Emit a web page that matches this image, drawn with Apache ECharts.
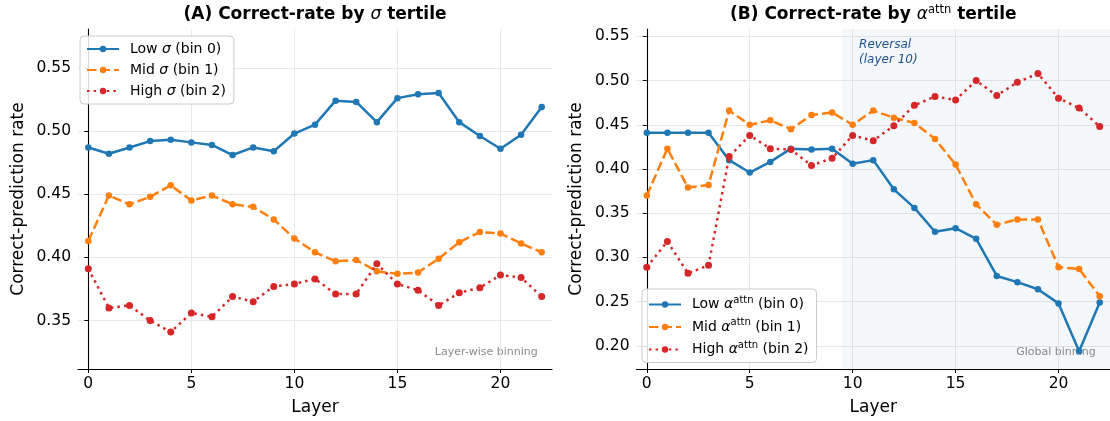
<!DOCTYPE html>
<html>
<head>
<meta charset="utf-8">
<script src="https://cdn.jsdelivr.net/npm/echarts@6/dist/echarts.min.js"></script>
<style>
  html, body { margin: 0; padding: 0; background: #fff; }
  #chart { width: 1110px; height: 421px; }
</style>
</head>
<body>
<div id="chart"></div>
<script>
// Layers on the x axis
const layers = [0,1,2,3,4,5,6,7,8,9,10,11,12,13,14,15,16,17,18,19,20,21,22];

// (A) correct-prediction rate per sigma tertile (layer-wise binning)
const lowSigma  = [0.487,0.482,0.487,0.492,0.493,0.491,0.489,0.481,0.487,0.484,0.498,0.505,0.524,0.523,0.507,0.526,0.529,0.530,0.507,0.496,0.486,0.497,0.519];
const midSigma  = [0.413,0.449,0.442,0.448,0.457,0.445,0.449,0.442,0.440,0.430,0.415,0.404,0.397,0.398,0.389,0.387,0.388,0.399,0.412,0.420,0.419,0.411,0.404];
const highSigma = [0.391,0.360,0.362,0.350,0.341,0.356,0.353,0.369,0.365,0.377,0.379,0.383,0.371,0.371,0.395,0.379,0.374,0.362,0.372,0.376,0.386,0.384,0.369];

// (B) correct-prediction rate per attention-alpha tertile (global binning)
const lowAttn  = [0.441,0.441,0.441,0.441,0.410,0.396,0.408,0.423,0.422,0.423,0.406,0.410,0.377,0.356,0.329,0.333,0.321,0.279,0.272,0.264,0.248,0.194,0.249];
const midAttn  = [0.370,0.423,0.379,0.382,0.466,0.450,0.455,0.445,0.461,0.464,0.450,0.466,0.458,0.452,0.434,0.405,0.360,0.337,0.343,0.343,0.289,0.287,0.256];
const highAttn = [0.289,0.318,0.282,0.291,0.414,0.438,0.423,0.422,0.404,0.412,0.438,0.432,0.449,0.472,0.482,0.478,0.500,0.483,0.498,0.508,0.480,0.469,0.448];

// Tick values and axis ranges
const xTicks = [0, 5, 10, 15, 20];
const yTicksA = [0.35, 0.40, 0.45, 0.50, 0.55];
const yTicksB = [0.20, 0.25, 0.30, 0.35, 0.40, 0.45, 0.50, 0.55];
const xRange = [-0.5, 22.5];
const yRangeA = [0.3117, 0.5807];
const yRangeB = [0.1738, 0.5583];
const reversalSpan = [9.5, 22.5];

const namesA = ['Low σ (bin 0)', 'Mid σ (bin 1)', 'High σ (bin 2)'];
const namesB = ['Low α^attn (bin 0)', 'Mid α^attn (bin 1)', 'High α^attn (bin 2)'];

const FONT = 'DejaVu Sans';
const C = ['#1f77b4', '#ff7f0e', '#d62728'];
const LW = 2.5;
const dashStyles = ['solid', [9.5, 4], [2.5, 4.1]];

const gridA = { left: 78, top: 29, width: 474, height: 342 };
const gridB = { left: 636.5, top: 29, width: 473.5, height: 342 };

const richBase = {
  f: { fontFamily: FONT, fontSize: 14, color: '#000', padding: [0, 0, 0, 6] },
  t: { fontFamily: FONT, fontSize: 14, color: '#000' },
  i: { fontFamily: FONT, fontSize: 14, fontStyle: 'italic', color: '#000' },
  s: { fontFamily: FONT, fontSize: 10, color: '#000', padding: [0, 0, 9, 0] }
};

function legendRich(name) {
  const m = name.match(/^(\w+) (σ|α)(\^attn)? (.*)$/);
  if (!m) return name;
  let out = '{f|' + m[1] + ' }{i|' + m[2] + '}';
  if (m[3]) out += '{s|attn}';
  out += '{t| ' + m[4] + '}';
  return out;
}

function xAxisCfg(idx) {
  return {
    type: 'value', gridIndex: idx, min: xRange[0], max: xRange[1],
    name: 'Layer', nameLocation: 'middle', nameGap: 30,
    nameTextStyle: { fontFamily: FONT, fontSize: 17, color: '#000' },
    axisLine: { show: true, onZero: false, lineStyle: { color: '#000', width: 1.1 } },
    axisTick: { show: true, length: 4, lineStyle: { color: '#000', width: 1 }, customValues: xTicks },
    axisLabel: { fontFamily: FONT, fontSize: 15.5, color: '#000', margin: 7, customValues: xTicks,
      formatter: v => String(v) },
    splitLine: { show: true, lineStyle: { color: '#e8e8e8', width: 1 } }
  };
}

function yAxisCfg(idx, range, ticks) {
  return {
    type: 'value', gridIndex: idx, min: range[0], max: range[1],
    name: 'Correct-prediction rate', nameLocation: 'middle', nameGap: 51,
    nameTextStyle: { fontFamily: FONT, fontSize: 17, color: '#000' },
    axisLine: { show: true, lineStyle: { color: '#000', width: 1.1 } },
    axisTick: { show: true, length: 4, lineStyle: { color: '#000', width: 1 }, customValues: ticks },
    axisLabel: { fontFamily: FONT, fontSize: 15.5, color: '#000', margin: 7, customValues: ticks,
      formatter: v => v.toFixed(2) },
    splitLine: { show: true, lineStyle: { color: '#e8e8e8', width: 1 } }
  };
}

function lineSeries(name, values, k, axisIdx, extra) {
  return Object.assign({
    name: name, type: 'line', xAxisIndex: axisIdx, yAxisIndex: axisIdx,
    data: layers.map((l, j) => [l, values[j]]),
    symbol: 'circle', symbolSize: k === 2 ? 7 : 6.5, showSymbol: true,
    itemStyle: { color: C[k] },
    lineStyle: { color: C[k], width: LW, type: dashStyles[k], cap: 'butt' },
    emphasis: { disabled: true }, animation: false, z: 3 + k
  }, extra || {});
}

function legendCfg(names, pos) {
  return Object.assign({
    data: names, orient: 'vertical',
    backgroundColor: 'rgba(255,255,255,0.85)', borderColor: '#cccccc', borderWidth: 1,
    borderRadius: 4, padding: [6, 8, 6, 6], itemGap: 7,
    itemWidth: 32, itemHeight: 8,
    formatter: legendRich,
    textStyle: { fontFamily: FONT, fontSize: 14, color: '#000', rich: richBase }
  }, pos);
}

const titleRich = {
  b: { fontFamily: FONT, fontSize: 17, fontWeight: 'bold', color: '#000' },
  bi: { fontFamily: FONT, fontSize: 17, fontStyle: 'italic', color: '#000' },
  bs: { fontFamily: FONT, fontSize: 11.5, color: '#000', padding: [0, 0, 10, 0] }
};

const option = {
  backgroundColor: '#fff',
  animation: false,
  grid: [gridA, gridB],
  xAxis: [xAxisCfg(0), xAxisCfg(1)],
  yAxis: [yAxisCfg(0, yRangeA, yTicksA), yAxisCfg(1, yRangeB, yTicksB)],
  legend: [
    legendCfg(namesA, { left: 80, top: 36 }),
    legendCfg(namesB, { left: 642, top: 289, itemGap: 6 })
  ],
  series: [
    lineSeries(namesA[0], lowSigma, 0, 0),
    lineSeries(namesA[1], midSigma, 1, 0),
    lineSeries(namesA[2], highSigma, 2, 0),
    lineSeries(namesB[0], lowAttn, 0, 1, {
      markArea: {
        silent: true,
        itemStyle: { color: 'rgba(31,119,180,0.05)' },
        label: { show: false },
        data: [[{ xAxis: reversalSpan[0] }, { xAxis: reversalSpan[1] }]]
      }
    }),
    lineSeries(namesB[1], midAttn, 1, 1),
    lineSeries(namesB[2], highAttn, 2, 1)
  ],
  graphic: [
    { type: 'text', x: gridA.left + gridA.width / 2, y: 15,
      style: { text: '{b|(A) Correct-rate by }{bi|σ}{b| tertile}', align: 'center', verticalAlign: 'middle', rich: titleRich } },
    { type: 'text', x: gridB.left + gridB.width / 2, y: 15,
      style: { text: '{b|(B) Correct-rate by }{bi|α}{bs|attn}{b| tertile}', align: 'center', verticalAlign: 'middle', rich: titleRich } },
    { type: 'text', x: gridA.left + gridA.width * 0.97, y: 352,
      style: { text: 'Layer-wise binning', align: 'right', verticalAlign: 'middle', fontFamily: FONT, fontSize: 11, fill: '#8c8c8c' } },
    { type: 'text', x: gridB.left + gridB.width * 0.97, y: 352,
      style: { text: 'Global binning', align: 'right', verticalAlign: 'middle', fontFamily: FONT, fontSize: 11, fill: '#8c8c8c' } },
    { type: 'text', x: gridB.left + gridB.width * 0.47, y: 38,
      style: { text: 'Reversal\n(layer 10)', align: 'left', verticalAlign: 'top', fontFamily: FONT, fontSize: 12, fontStyle: 'italic', lineHeight: 14.5, fill: '#1f4f8f' } }
  ]
};

const chart = echarts.init(document.getElementById('chart'), null, { renderer: 'canvas' });
chart.setOption(option);
</script>
</body>
</html>
